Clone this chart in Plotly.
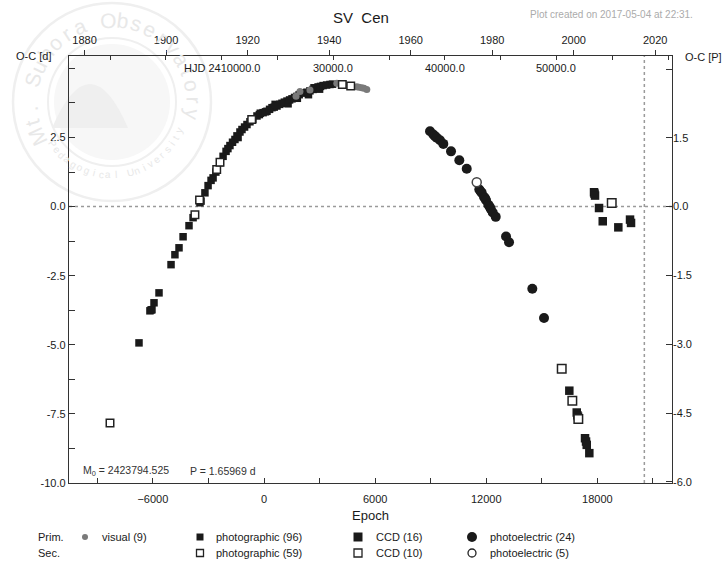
import math
import plotly.graph_objects as go

# ---------------------------------------------------------------
# SV Cen  -  O-C diagram (linear ephemeris)
# ---------------------------------------------------------------
STAR = "SV\u00a0 Cen"
M0 = 2423794.525          # HJD of epoch 0
PERIOD = 1.65969          # days
PLOT_DATE_JD = 2457878.438  # 2017-05-04 22:31
CREATED = "Plot created on 2017-05-04 at 22:31."

EPOCH_RANGE = [-10530, 22030]
OC_RANGE_D = [-10.0, 5.45]

# ---- primary minima -------------------------------------------
visual_E = [1940, 3930, 5010, 5130, 5280, 5400, 5550, 2480, 1730]
visual_oc = [4.17, 4.46, 4.34, 4.32, 4.30, 4.28, 4.24, 4.22, 3.99]

photo_E = [-6750, -6160, -6100, -6050, -5940, -5670, -5020, -4810, -4590,
           -4370, -4050, -3830, -3460, -3400, -3190, -3020, -2860, -2750,
           -2600, -2380, -2210, -2050, -1950, -1840, -1700, -1570, -1460,
           -1400, -1300, -1190, -1050, -920, -760, -600, -380, -250, -200,
           -50, 80, 160, 300, 430, 550, 600, 700, 850, 970, 1100, 1240,
           1300, 1380, 1510, 1650, 1780, 1800, 1900, 2050, 2200, 2320,
           2400, 2480, 2650, 2700, 2780, 2920, 3000, 3050, 3190, 3380,
           3560, 3700]
photo_oc = [-4.93, -3.77, -3.74, -3.73, -3.48, -3.12, -2.10, -1.74, -1.49,
            -1.09, -0.69, -0.40, 0.14, 0.20, 0.50, 0.76, 0.95, 1.04,
            1.25, 1.59, 1.82, 2.00, 2.10, 2.21, 2.33, 2.43, 2.56,
            2.50, 2.70, 2.79, 2.88, 2.97, 3.07, 3.15, 3.28, 3.33, 3.38,
            3.40, 3.43, 3.45, 3.52, 3.58, 3.60, 3.70, 3.64, 3.70, 3.74, 3.78, 3.82,
            3.72, 3.86, 3.90, 3.95, 3.99, 3.92, 4.05, 4.11, 4.12, 4.14,
            4.05, 4.19, 4.24, 4.30, 4.28, 4.33, 4.25, 4.35, 4.38, 4.40,
            4.42, 4.43]

ccd_E = [17820, 17847, 17874, 18090, 18290, 19132, 19764, 19818,
         16486, 16886, 16918, 16956, 17334, 17388, 17426, 17566]
ccd_oc = [0.52, 0.47, 0.40, -0.05, -0.53, -0.75, -0.47, -0.59,
          -6.66, -7.45, -7.55, -7.60, -8.38, -8.50, -8.62, -8.92]

pe_E = [8964, 9142, 9230, 9326, 9504, 9682, 10098, 10546, 10946, 11626,
        11700, 11756, 11880, 11940, 11988, 12112, 12180, 12242, 12350,
        12512, 13068, 13230, 14488, 15120]
pe_oc = [2.73, 2.61, 2.55, 2.49, 2.40, 2.27, 2.00, 1.68, 1.37, 0.62,
         0.55, 0.50, 0.35, 0.30, 0.23, 0.07, 0.00, -0.08, -0.21,
         -0.37, -1.08, -1.29, -2.97, -4.03]

# ---- secondary minima -----------------------------------------
photo2_E = [-8316, -3730, -3480, -2554, -2376, -664, 4228, 4682]
photo2_oc = [-7.83, -0.29, 0.24, 1.34, 1.61, 3.15, 4.42, 4.36]

ccd2_E = [18776, 16076, 16648, 16972]
ccd2_oc = [0.13, -5.87, -7.02, -7.68]

pe2_E = [11486]
pe2_oc = [0.88]

# ---- axis tick labels -----------------------------------------
YEAR_TICKS = [1880, 1900, 1920, 1940, 1960, 1980, 2000, 2020]
HJD_LABELS = ["HJD 2410000.0", "30000.0", "40000.0", "50000.0"]
HJD_LABEL_VALUES = [20000, 30000, 40000, 50000]

LEGEND_PRIM = ["visual (9)", "photographic (96)", "CCD (16)", "photoelectric (24)"]
LEGEND_SEC = ["photographic (59)", "CCD (10)", "photoelectric (5)"]

FONT = "Liberation Sans, Arial, sans-serif"
INK = "#1a1a1a"


def epoch_to_hjd(e):
    return M0 + e * PERIOD


def hjd_to_year(jd):
    return 2000.0 + (jd - 2451545.0) / 365.25


W, H = 727, 565
ML, MR, MT, MB = 69, 55, 56, 82
PW, PH = W - ML - MR, H - MT - MB


def px(x):
    return (x - ML) / PW


def py(y):
    return (H - MB - y) / PH


fig = go.Figure()

# primary series
fig.add_trace(go.Scatter(x=photo_E, y=photo_oc, mode="markers", name="photographic",
                         marker=dict(symbol="square", size=7.5, color=INK,
                                     line=dict(width=0))))
fig.add_trace(go.Scatter(x=visual_E, y=visual_oc, mode="markers", name="visual",
                         marker=dict(symbol="circle", size=7, color="#7a7a7a",
                                     line=dict(width=0))))
fig.add_trace(go.Scatter(x=ccd_E, y=ccd_oc, mode="markers", name="CCD",
                         marker=dict(symbol="square", size=8.5, color=INK,
                                     line=dict(width=0))))
fig.add_trace(go.Scatter(x=pe_E, y=pe_oc, mode="markers", name="photoelectric",
                         marker=dict(symbol="circle", size=10, color=INK,
                                     line=dict(width=0))))
# secondary series (open symbols)
fig.add_trace(go.Scatter(x=photo2_E, y=photo2_oc, mode="markers", name="photographic II",
                         marker=dict(symbol="square", size=7.5, color="white",
                                     line=dict(width=1.5, color="#222"))))
fig.add_trace(go.Scatter(x=ccd2_E, y=ccd2_oc, mode="markers", name="CCD II",
                         marker=dict(symbol="square", size=8.5, color="white",
                                     line=dict(width=1.5, color="#222"))))
fig.add_trace(go.Scatter(x=pe2_E, y=pe2_oc, mode="markers", name="photoelectric II",
                         marker=dict(symbol="circle", size=9, color="white",
                                     line=dict(width=1.5, color="#444"))))

# helper traces so the secondary axes are drawn
fig.add_trace(go.Scatter(x=[None], y=[None], yaxis="y2", showlegend=False, hoverinfo="skip"))
fig.add_trace(go.Scatter(x=[None], y=[None], xaxis="x2", showlegend=False, hoverinfo="skip"))
fig.add_trace(go.Scatter(x=[None], y=[None], xaxis="x3", showlegend=False, hoverinfo="skip"))

# tick definitions
ep_ticks = list(range(-9000, 22001, 3000))
ep_text = [("\u2212" + str(-v) if v < 0 else str(v)) if v % 6000 == 0 else " " for v in ep_ticks]

d_ticks = [-10 + 1.25 * i for i in range(13)]
d_text = []
for v in d_ticks:
    if abs(v / 2.5 - round(v / 2.5)) < 1e-9 and v < 4.9:
        d_text.append("%.1f" % v)
    else:
        d_text.append(" ")

p_ticks = [-6.0, -4.5, -3.0, -1.5, 0.0, 1.5, 3.0]
p_text = ["%.1f" % v if v < 2.9 else " " for v in p_ticks]

year_range = [hjd_to_year(epoch_to_hjd(EPOCH_RANGE[0])), hjd_to_year(epoch_to_hjd(EPOCH_RANGE[1]))]
hjd_range = [epoch_to_hjd(EPOCH_RANGE[0]) - 2400000, epoch_to_hjd(EPOCH_RANGE[1]) - 2400000]

axis_font = dict(family=FONT, size=11, color=INK)

fig.update_layout(
    width=W, height=H,
    margin=dict(l=ML, r=MR, t=MT, b=MB),
    paper_bgcolor="white", plot_bgcolor="white",
    showlegend=False,
    font=dict(family=FONT, size=11, color=INK),
    xaxis=dict(range=EPOCH_RANGE, showgrid=False, zeroline=False,
               showline=True, linecolor="#333", linewidth=1.3, mirror=True,
               ticks="inside", ticklen=5, tickcolor="#333",
               tickmode="array", tickvals=ep_ticks, ticktext=ep_text,
               tickfont=axis_font, ticklabelstandoff=6,
               title=dict(text="Epoch", font=dict(family=FONT, size=13, color=INK), standoff=6)),
    yaxis=dict(range=OC_RANGE_D, showgrid=False, zeroline=False,
               showline=True, linecolor="#333", linewidth=1.3, mirror=True,
               ticks="inside", ticklen=6, tickcolor="#333",
               tickmode="array", tickvals=d_ticks, ticktext=d_text,
               tickfont=axis_font),
    yaxis2=dict(overlaying="y", side="right",
                range=[OC_RANGE_D[0] / PERIOD, OC_RANGE_D[1] / PERIOD],
                showgrid=False, zeroline=False, showline=False,
                ticks="inside", ticklen=6, tickcolor="#333",
                tickmode="array", tickvals=p_ticks, ticktext=p_text,
                tickfont=axis_font),
    xaxis2=dict(overlaying="x", side="top", range=year_range,
                showgrid=False, zeroline=False, showline=False,
                ticks="outside", ticklen=5, tickcolor="#333",
                tickmode="array", tickvals=YEAR_TICKS,
                ticktext=[str(v) for v in YEAR_TICKS],
                tickfont=axis_font, ticklabelstandoff=2),
    xaxis3=dict(overlaying="x", side="top", range=hjd_range,
                showgrid=False, zeroline=False, showline=False,
                ticks="inside", ticklen=4, tickcolor="#333",
                tickmode="array", tickvals=list(range(10000, 60001, 5000)),
                showticklabels=False),
)

shapes = []
# dotted reference lines: O-C = 0 and the date of the plot
shapes.append(dict(type="line", xref="x", yref="y", x0=EPOCH_RANGE[0], x1=EPOCH_RANGE[1],
                   y0=0, y1=0, line=dict(color="#9a9a9a", width=1.5, dash="dot"), layer="below"))
plot_epoch = (PLOT_DATE_JD - M0) / PERIOD
shapes.append(dict(type="line", xref="x", yref="y", x0=plot_epoch, x1=plot_epoch,
                   y0=OC_RANGE_D[0], y1=OC_RANGE_D[1],
                   line=dict(color="#9a9a9a", width=1.5, dash="dot"), layer="below"))

# faint observatory seal in the upper-left corner
CX, CY = 112, 102
WM = "#efefef"
for r, w in ((99, 2.5), (64, 2)):
    shapes.append(dict(type="circle", xref="paper", yref="paper",
                       x0=px(CX - r), x1=px(CX + r), y0=py(CY + r), y1=py(CY - r),
                       line=dict(color=WM, width=w), layer="below"))
shapes.append(dict(type="circle", xref="paper", yref="paper",
                   x0=px(CX - 58), x1=px(CX + 58), y0=py(CY + 58), y1=py(CY - 58),
                   fillcolor="#f7f7f7", line=dict(width=0), layer="below"))
shapes.append(dict(type="path", xref="paper", yref="paper",
                   path="M {0} {1} Q {2} {3} {4} {1} Z".format(px(52), py(128), px(90), py(40), px(128)),
                   fillcolor="#efefef", line=dict(width=0), layer="below"))

annotations = []


def arc_text(text, r, start, step, size, outer=True):
    ang = start
    for ch in text:
        if ch != " ":
            t = math.radians(ang)
            x = CX + r * math.cos(t)
            y = CY - r * math.sin(t)
            rot = (90 - ang) if outer else (270 - ang)
            annotations.append(dict(x=px(x), y=py(y), xref="paper", yref="paper",
                                    text=ch, showarrow=False, textangle=rot,
                                    font=dict(family=FONT, size=size, color="#e8e8e8"),
                                    xanchor="center", yanchor="middle"))
        ang = ang - step if outer else ang + step


arc_text("Mt. Suhora Observatory", 82, 205, 10.2, 21, outer=True)
arc_text("Pedagogical University", 73, 215, 5.8, 10, outer=False)

# legend keys
LEG_Y1, LEG_Y2 = 537, 553
key_x = [85, 200, 358, 472]
text_x = [100, 214, 374, 488]


def key(shape, x, y, size, fill, line_w=0):
    kind = "rect" if shape == "square" else "circle"
    shapes.append(dict(type=kind, xref="paper", yref="paper",
                       xsizemode="pixel", ysizemode="pixel",
                       xanchor=px(x), yanchor=py(y),
                       x0=-size / 2, x1=size / 2, y0=-size / 2, y1=size / 2,
                       fillcolor=fill, line=dict(color="#222", width=line_w)))


key("circle", key_x[0], LEG_Y1, 6, "#7a7a7a")
key("square", key_x[1], LEG_Y1, 7, INK)
key("square", key_x[2], LEG_Y1, 9, INK)
key("circle", key_x[3], LEG_Y1, 10, INK)
key("square", key_x[1], LEG_Y2, 7, "white", 1.3)
key("square", key_x[2], LEG_Y2, 8, "white", 1.3)
key("circle", key_x[3], LEG_Y2, 8, "white", 1.3)


def label(text, x, y, size=11, color=INK, anchor="left", xref="paper"):
    annotations.append(dict(x=x if xref != "paper" else px(x), y=py(y), xref=xref, yref="paper",
                            text=text, showarrow=False, xanchor=anchor, yanchor="middle",
                            font=dict(family=FONT, size=size, color=color)))


label("Prim.", 36, LEG_Y1)
label("Sec.", 36, LEG_Y2)
for t, x in zip(LEGEND_PRIM, text_x):
    label(t, x, LEG_Y1)
for t, x in zip(LEGEND_SEC, text_x[1:]):
    label(t, x, LEG_Y2)

# titles and notes
label(STAR, 361, 18, size=15, anchor="center")
label(CREATED, 528, 15, size=10, color="#ababab")
label("O-C [d]", 53, 56, size=11, anchor="right")
label("O-C [P]", 683, 57, size=11)
label("M<sub>0</sub> = %.3f" % M0, 81, 471, size=10.5, color="#333")
label("P = %.5f d" % PERIOD, 188, 471, size=10.5, color="#333")
for t, v in zip(HJD_LABELS, HJD_LABEL_VALUES):
    label(t, v, 68, size=11, anchor="center", xref="x3")

fig.update_layout(shapes=shapes, annotations=annotations)
fig.write_html("out.html")
